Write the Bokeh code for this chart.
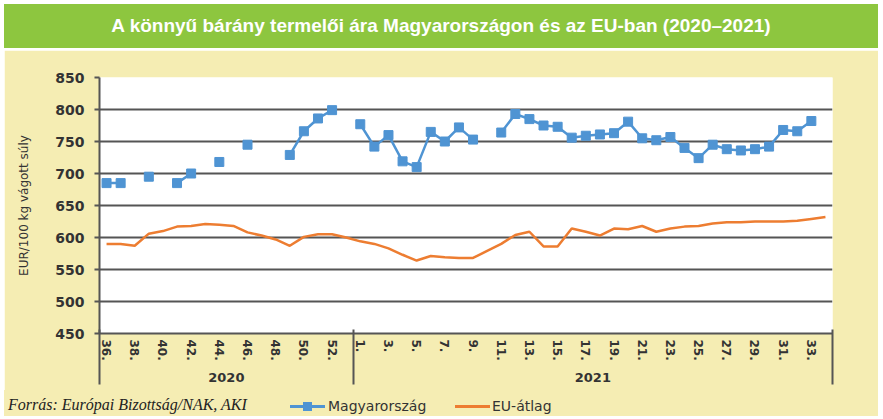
import numpy as np
from bokeh.plotting import figure
from bokeh.models import (FixedTicker, LinearAxis, Div, Range1d)
from bokeh.layouts import column
from bokeh.embed import file_html
from bokeh.resources import INLINE

# ---- data -------------------------------------------------------------
weeks_2020 = [36, 37, 38, 39, 40, 41, 42, 43, 44, 45, 46, 47, 48, 49, 50, 51, 52, 53]
weeks_2021 = [1, 2, 3, 4, 5, 6, 7, 8, 9, 10, 11, 12, 13, 14, 15, 16, 17, 18, 19, 20,
              21, 22, 23, 24, 25, 26, 27, 28, 29, 30, 31, 32, 33, 34]
hu_2020 = [685, 685, None, 695, None, 685, 700, None, 718, None, 745, None, None,
           729, 766, 786, 799, None]
hu_2021 = [777, 742, 760, 719, 710, 765, 750, 772, 753, None, 764, 793, 785, 775, 773,
           756, 759, 761, 763, 781, 755, 752, 757, 740, 724, 745, 738, 736, 738, 742,
           768, 766, 782, None]
eu_2020 = [590, 590, 587, 606, 610, 617, 618, 621, 620, 618, 608, 603, 597, 587, 601,
           605, 605, 600]
eu_2021 = [594, 590, 583, 573, 564, 571, 569, 568, 568, 579, 590, 604, 609, 586, 586,
           614, 609, 603, 614, 613, 618, 609, 614, 617, 618, 622, 624, 624, 625, 625,
           625, 626, 629, 632]
week_labels_2020 = ["36.", "38.", "40.", "42.", "44.", "46.", "48.", "50.", "52."]
week_labels_2021 = ["1.", "3.", "5.", "7.", "9.", "11.", "13.", "15.", "17.", "19.",
                    "21.", "23.", "25.", "27.", "29.", "31.", "33."]
years = ["2020", "2021"]
y_ticks = [450, 500, 550, 600, 650, 700, 750, 800, 850]

title_text = "A könnyű bárány termelői ára Magyarországon és az EU-ban (2020–2021)"
y_title = "EUR/100 kg vágott súly"
source_text = "Forrás: Európai Bizottság/NAK, AKI"
series_names = ["Magyarország", "EU-átlag"]

# ---- styles -----------------------------------------------------------
GREEN = "#8DC63F"
YELLOW = "#F5EDB3"
BLUE = "#4F94D3"
ORANGE = "#ED7D31"
GRID = "#555555"
TEXT = "#333333"

FULL_W = 874
FRAME_W, FRAME_H = 733, 256
BORDER_L, BORDER_R, BORDER_T, BORDER_B = 95, 46, 27, 57
n20, n21 = len(weeks_2020), len(weeks_2021)
n = n20 + n21
x = np.arange(n)
hu = np.array(hu_2020 + hu_2021, dtype=float)
eu = np.array(eu_2020 + eu_2021, dtype=float)

p = figure(frame_width=FRAME_W, frame_height=FRAME_H,
           x_range=Range1d(-0.5, n - 0.5), y_range=Range1d(450, 850),
           output_backend="svg", toolbar_location=None,
           min_border_left=BORDER_L, min_border_right=BORDER_R,
           min_border_top=BORDER_T, min_border_bottom=BORDER_B,
           background_fill_color="white", border_fill_color=YELLOW,
           outline_line_color=None)
p.margin = (0, 5, 0, 4)

# lines
hu_line = p.line(x, hu, color=BLUE, line_width=2.5)
hu_pts = p.scatter(x, hu, marker="square", size=9, color=BLUE)
eu_line = p.line(x, eu, color=ORANGE, line_width=2.5)

# y axis
yax = p.yaxis[0]
yax.ticker = FixedTicker(ticks=y_ticks)
yax.axis_label = y_title
yax.axis_label_text_font = "DejaVu Sans"
yax.axis_label_text_font_style = "normal"
yax.axis_label_text_font_size = "12px"
yax.axis_label_text_color = TEXT
yax.axis_label_standoff = 21
yax.major_label_text_font = "DejaVu Sans"
yax.major_label_text_font_style = "bold"
yax.major_label_text_font_size = "14px"
yax.major_label_text_color = TEXT
yax.major_label_standoff = 10
yax.major_tick_out = 5
yax.major_tick_in = 0
yax.major_tick_line_color = GRID
yax.major_tick_line_width = 2
yax.minor_tick_line_color = None
yax.axis_line_color = GRID
yax.axis_line_width = 2

p.ygrid.grid_line_color = GRID
p.ygrid.grid_line_width = 2
p.xgrid.visible = False

# week axis
tick_pos = [i for i, w in enumerate(weeks_2020) if w % 2 == 0] + \
           [n20 + i for i, w in enumerate(weeks_2021) if w % 2 == 1 and w <= 33]
overrides = {pos: lab for pos, lab in zip(tick_pos, week_labels_2020 + week_labels_2021)}
xax = p.xaxis[0]
xax.ticker = FixedTicker(ticks=tick_pos)
xax.major_label_overrides = overrides
xax.major_label_orientation = "vertical"
xax.major_label_text_font = "DejaVu Sans"
xax.major_label_text_font_style = "bold"
xax.major_label_text_font_size = "12px"
xax.major_label_text_color = TEXT
xax.major_label_standoff = 6
xax.major_tick_out = 0
xax.major_tick_in = 0
xax.minor_tick_line_color = None
xax.axis_line_color = GRID
xax.axis_line_width = 2

# year axis
year_pos = [(n20 - 1) / 2, n20 + (n21 - 1) / 2]
yr = LinearAxis(ticker=FixedTicker(ticks=year_pos),
                major_label_overrides={year_pos[0]: years[0], year_pos[1]: years[1]},
                axis_line_color=None, major_tick_out=0, major_tick_in=0,
                minor_tick_line_color=None,
                major_label_text_font="DejaVu Sans", major_label_text_font_style="bold",
                major_label_text_font_size="13px", major_label_text_color=TEXT,
                major_label_standoff=9)
p.add_layout(yr, "below")

# group separators (minor ticks pointing up towards the frame)
sep = LinearAxis(ticker=FixedTicker(ticks=[], minor_ticks=[-0.5, n20 - 0.5, n - 0.5]),
                 axis_line_color=None, major_tick_out=0, major_tick_in=0,
                 minor_tick_out=0, minor_tick_in=55,
                 minor_tick_line_color=GRID, minor_tick_line_width=2,
                 major_label_text_font_size="0px", major_label_standoff=0)
p.add_layout(sep, "below")

# ---- bottom strip: source note + legend key ------------------------------
foot_html = (
    f'<div style="position:relative;width:{FULL_W}px;height:26px;background:{YELLOW};">'
    f'<span style="position:absolute;left:4px;top:6px;line-height:18px;white-space:nowrap;'
    f"font-family:'Liberation Serif';font-style:italic;font-size:16px;color:#222222;\">"
    f'{source_text}</span>'
    f'<span style="position:absolute;left:286px;top:15px;width:35px;height:3px;'
    f'background:{BLUE};"></span>'
    f'<span style="position:absolute;left:299px;top:12px;width:9px;height:9px;'
    f'background:{BLUE};"></span>'
    f'<span style="position:absolute;left:324px;top:7px;line-height:18px;white-space:nowrap;'
    f"font-family:'DejaVu Sans';font-size:14px;color:{TEXT};\">{series_names[0]}</span>"
    f'<span style="position:absolute;left:451px;top:15px;width:35px;height:3px;'
    f'background:{ORANGE};"></span>'
    f'<span style="position:absolute;left:488px;top:7px;line-height:18px;white-space:nowrap;'
    f"font-family:'DejaVu Sans';font-size:14px;color:{TEXT};\">{series_names[1]}</span>"
    f'</div>'
)
foot = Div(text=foot_html, width=FULL_W, height=26, margin=(0, 5, 0, 4),
           styles={"background-color": YELLOW, "width": f"{FULL_W}px", "height": "26px"})

title = Div(text=title_text, width=FULL_W, height=44, margin=(4, 5, 2, 4),
            styles={"background-color": GREEN, "color": "white",
                    "font-family": "Liberation Sans", "font-weight": "bold",
                    "font-size": "19px", "text-align": "center",
                    "line-height": "44px", "width": f"{FULL_W}px", "height": "44px"})

layout = column(title, p, foot, spacing=0)
open("out.html", "w").write(file_html(layout, INLINE))
